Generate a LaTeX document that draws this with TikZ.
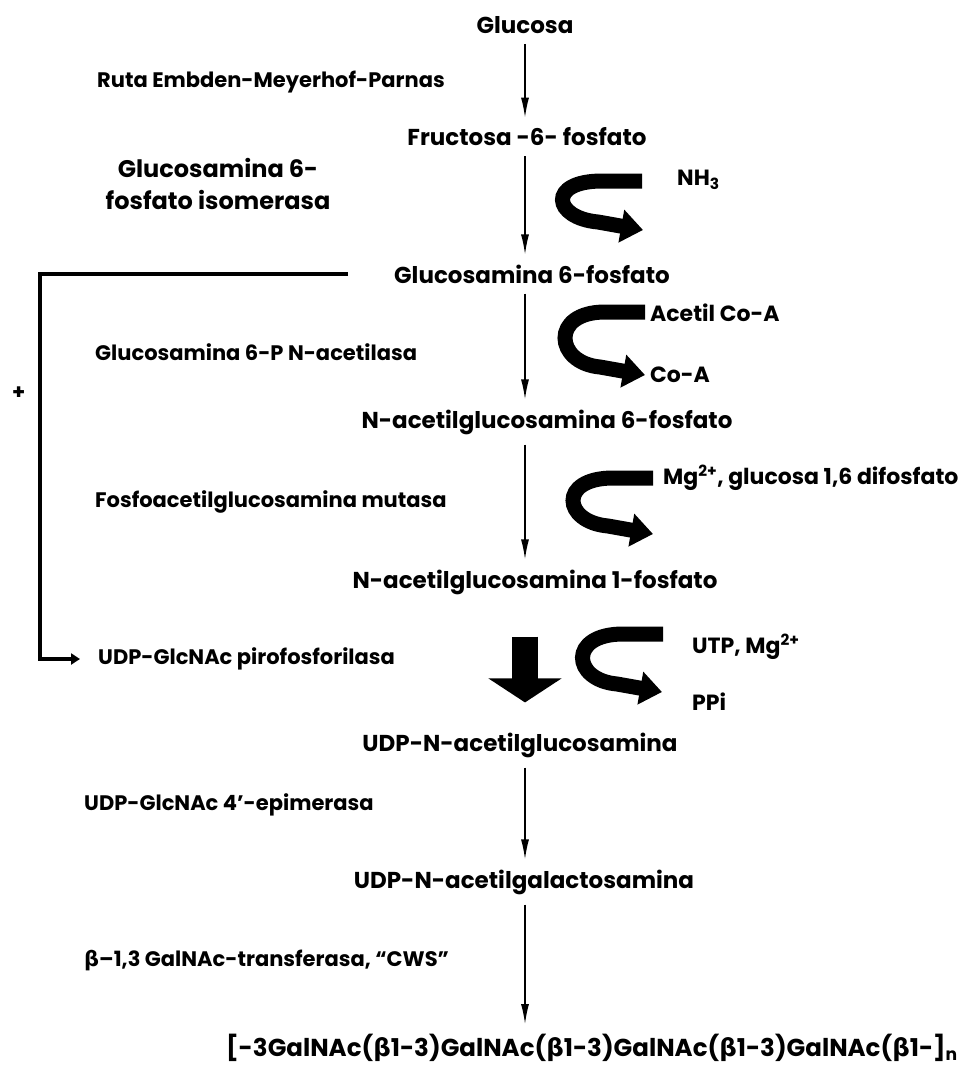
\documentclass[tikz,border=0pt]{standalone}
\usepackage{fontspec}
\setmainfont{Poppins}
\newfontfamily\griega{DejaVu Sans}
\usetikzlibrary{positioning,arrows.meta}

\begin{document}
\begin{tikzpicture}[x=1pt,y=-1pt,>=latex]

    %
    % Styles for compounds, enzymes and arrows
    %
    \tikzstyle{compuesto} = [inner sep=2pt, font={\fontsize{23}{27}\selectfont\bfseries}]
    \tikzstyle{enzima} = [inner sep=2pt, anchor=west, font={\fontsize{21}{25}\selectfont\bfseries}]
    \tikzstyle{cofactor} = [inner sep=2pt, anchor=west, font={\fontsize{22}{26}\selectfont\bfseries}]
    \tikzstyle{flecha} = [line width=1.4pt, -{Latex[length=20pt,width=8pt]}, shorten <=8pt, shorten >=8pt]
    \tikzstyle{flechaGruesa} = [line width=26pt, -{Triangle[length=24pt,width=72pt]}]
    \tikzstyle{curvo} = [line width=15pt, -{Triangle[length=22pt,width=32pt]}]
    \tikzstyle{retro} = [line width=4pt, -{Triangle[length=9pt,width=11pt]}]

    \useasboundingbox (0,0) rectangle (972,1073);
    \coordinate (eje) at (525,0);
    \coordinate (borde) at (40,0);

    %
    % Position compounds
    %
    \node[compuesto, name=glucosa] at (525,25) {Glucosa};
    \node[compuesto, name=fructosa] at (527,137) {Fructosa -6- fosfato};
    \node[compuesto, name=g6p] at (532,274) {Glucosamina 6-fosfato};
    \node[compuesto, name=nag6p] at (547,422) {N-acetilglucosamina 6-fosfato};
    \node[compuesto, name=nag1p] at (535,582) {N-acetilglucosamina 1-fosfato};
    \node[compuesto, name=udpglc] at (520,745) {UDP-N-acetilglucosamina};
    \node[compuesto, name=udpgal] at (524,882) {UDP-N-acetilgalactosamina};
    \node[compuesto, name=polimero, font={\fontsize{24.5}{29}\selectfont\bfseries}] at (592,1048)
      {[-3GalNAc({\griega β}1-3)GalNAc({\griega β}1-3)GalNAc({\griega β}1-3)GalNAc({\griega β}1-]\textsubscript{n}};

    %
    % Position enzymes and cofactors
    %
    \node[enzima, name=ruta, anchor=east] at (447,82) {Ruta Embden-Meyerhof-Parnas};
    \node[compuesto, name=isomerasa, align=center, font={\fontsize{24}{32}\selectfont\bfseries}] at (218,184)
      {Glucosamina 6-\\fosfato isomerasa};
    \node[enzima, name=acetilasa] at (93,352) {Glucosamina 6-P N-acetilasa};
    \node[enzima, name=mutasa] at (93,502) {Fosfoacetilglucosamina mutasa};
    \node[enzima, name=piro] at (96,659) {UDP-GlcNAc pirofosforilasa};
    \node[enzima, name=epimerasa] at (82,805) {UDP-GlcNAc 4'-epimerasa};
    \node[enzima, name=transferasa] at (82,960) {{\griega β}–1,3 GalNAc-transferasa, “CWS”};
    \node[enzima, name=mas] at (10,393) {+};

    \node[cofactor, name=nh3] at (675,180) {NH\textsubscript{3}};
    \node[cofactor, name=acetil] at (648,313) {Acetil Co-A};
    \node[cofactor, name=coa] at (648,375) {Co-A};
    \node[cofactor, name=mg] at (661,478) {Mg\textsuperscript{2+}, glucosa 1,6 difosfato};
    \node[cofactor, name=utp] at (690,647) {UTP, Mg\textsuperscript{2+}};
    \node[cofactor, name=ppi] at (690,702) {PPi};

    %
    % Connect compounds via arrows
    %
    \draw[flecha] (glucosa.south -| eje) -- (fructosa.north -| eje);
    \draw[flecha] (fructosa.south -| eje) -- (g6p.north -| eje);
    \draw[flecha] (g6p.south -| eje) -- (nag6p.north -| eje);
    \draw[flecha] (nag6p.south -| eje) -- (nag1p.north -| eje);
    \draw[flechaGruesa, shorten <=40pt, shorten >=28pt] (nag1p.south -| eje) -- (udpglc.north -| eje);
    \draw[flecha] (udpglc.south -| eje) -- (udpgal.north -| eje);
    \draw[flecha] (udpgal.south -| eje) -- (polimero.north -| eje);

    % cofactor curves
    \coordinate (ent1) at (642,181);  \coordinate (sal1) at (643,230);
    \coordinate (ent2) at (645,312);  \coordinate (sal2) at (645,375);
    \coordinate (ent3) at (653,478);  \coordinate (sal3) at (653,534);
    \coordinate (ent4) at (663,634);  \coordinate (sal4) at (662,692);
    \foreach \i in {1,2,3,4} {
      \draw[curvo] (ent\i) -- ++(-40,0) .. controls +(-55,0) and +(-45,-4) .. ([shift={(-45,-8)}]sal\i) -- (sal\i);
    }

    % feedback
    \draw[retro, shorten <=44pt, shorten >=16pt] (g6p.west) -- (g6p.west -| borde) |- (piro.west);
\end{tikzpicture}
\end{document}
